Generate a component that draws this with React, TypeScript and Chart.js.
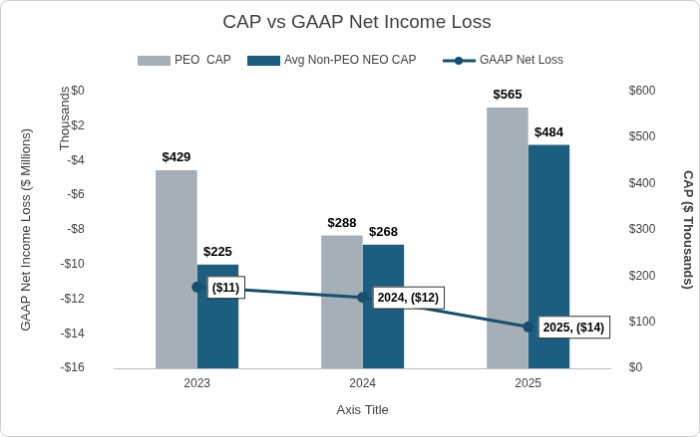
import React, { useEffect, useRef } from "react";
import { Chart, registerables } from "chart.js";
Chart.register(...registerables);

const categories = ["2023", "2024", "2025"];
const peoCap = [429, 288, 565];
const neoCap = [225, 268, 484];
const netLoss = [-11.3, -11.9, -13.6];
const netLossLabels = ["($11)", "2024, ($12)", "2025, ($14)"];

const GRAY = "#A5AFB8";
const BLUE = "#1B5E80";
const LINE = "#15506D";
const FONT = "Liberation Sans, Arial, sans-serif";

export default function App() {
  const ref = useRef<HTMLCanvasElement>(null);
  useEffect(() => {
    const labelsPlugin = {
      id: "extras",
      afterDraw(chart: any) {
        const ctx = chart.ctx;
        ctx.save();
        ctx.font = `bold 13px ${FONT}`;
        ctx.fillStyle = "#000";
        ctx.textAlign = "center";
        ctx.textBaseline = "bottom";
        [0, 1].forEach((di) => {
          const meta = chart.getDatasetMeta(di);
          const vals = di === 0 ? peoCap : neoCap;
          meta.data.forEach((b: any, i: number) => {
            ctx.fillText("$" + vals[i], b.x, b.y - 6);
          });
        });
        const lm = chart.getDatasetMeta(2);
        ctx.font = `bold 12px ${FONT}`;
        ctx.textAlign = "left";
        ctx.textBaseline = "middle";
        lm.data.forEach((p: any, i: number) => {
          const t = netLossLabels[i];
          const w = ctx.measureText(t).width + 10;
          const x = p.x + 10, y = p.y;
          ctx.fillStyle = "#fff";
          ctx.fillRect(x, y - 11, w, 22);
          ctx.strokeStyle = "#333";
          ctx.lineWidth = 1;
          ctx.strokeRect(x + 0.5, y - 10.5, w, 22);
          ctx.fillStyle = "#000";
          ctx.fillText(t, x + 5, y + 1);
        });
        ctx.font = `13px ${FONT}`;
        ctx.fillStyle = "#404040";
        ctx.translate(64, 118);
        ctx.rotate(-Math.PI / 2);
        ctx.textAlign = "center";
        ctx.fillText("Thousands", 0, 0);
        ctx.restore();
        ctx.save();
        ctx.font = `12px ${FONT}`;
        ctx.textBaseline = "middle";
        const ly = 60;
        ctx.fillStyle = GRAY;
        ctx.fillRect(137, ly - 5, 33, 10);
        ctx.fillStyle = "#404040";
        ctx.fillText("PEO  CAP", 174, ly);
        ctx.fillStyle = BLUE;
        ctx.fillRect(247, ly - 5, 33, 10);
        ctx.fillStyle = "#404040";
        ctx.fillText("Avg Non-PEO NEO CAP", 284, ly);
        ctx.strokeStyle = LINE;
        ctx.lineWidth = 3;
        ctx.beginPath();
        ctx.moveTo(443, ly);
        ctx.lineTo(476, ly);
        ctx.stroke();
        ctx.fillStyle = LINE;
        ctx.beginPath();
        ctx.arc(459, ly, 4, 0, Math.PI * 2);
        ctx.fill();
        ctx.fillStyle = "#404040";
        ctx.fillText("GAAP Net Loss", 480, ly);
        ctx.restore();
      },
    };
    const chart = new Chart(ref.current!, {
      type: "bar",
      data: {
        labels: categories,
        datasets: [
          { label: "PEO  CAP", data: peoCap, backgroundColor: GRAY, yAxisID: "y1", categoryPercentage: 0.5, barPercentage: 1, order: 2 },
          { label: "Avg Non-PEO NEO CAP", data: neoCap, backgroundColor: BLUE, yAxisID: "y1", categoryPercentage: 0.5, barPercentage: 1, order: 2 },
          { type: "line", label: "GAAP Net Loss", data: netLoss, borderColor: LINE, backgroundColor: LINE, borderWidth: 3, pointRadius: 4, yAxisID: "y", order: 1 } as any,
        ],
      },
      options: {
        animation: false,
        responsive: false,
        layout: { padding: { top: 0, left: 14, right: 0, bottom: 14 } },
        plugins: {
          legend: { display: false },
          tooltip: { enabled: false },
          title: { display: true, text: "CAP vs GAAP Net Income Loss", color: "#404040", font: { family: FONT, size: 19, weight: "normal" }, padding: { top: 10, bottom: 58 } },
        },
        scales: {
          x: {
            grid: { display: false, drawTicks: false },
            border: { color: "#BFBFBF" },
            ticks: { color: "#404040", font: { family: FONT, size: 12 }, padding: 8 },
            title: { display: true, text: "Axis Title", color: "#404040", font: { family: FONT, size: 13 } },
          },
          y: {
            position: "left",
            min: -16, max: 0,
            ticks: { stepSize: 2, color: "#404040", font: { family: FONT, size: 12 }, padding: 22, callback: (v: any) => (v < 0 ? "-$" + -v : "$" + v) },
            grid: { display: false },
            border: { display: false },
            title: { display: true, text: "GAAP Net Income Loss ($ Millions)", color: "#404040", font: { family: FONT, size: 13 } },
          },
          y1: {
            position: "right",
            min: 0, max: 600,
            ticks: { stepSize: 100, color: "#404040", font: { family: FONT, size: 12 }, padding: 10, callback: (v: any) => "$" + v },
            grid: { display: false },
            border: { display: false },
            title: { display: true, text: "CAP ($ Thousands)", color: "#404040", font: { family: FONT, size: 13, weight: "bold" }, padding: { top: 4, bottom: 14 } },
          },
        },
      },
      plugins: [labelsPlugin],
    });
    return () => chart.destroy();
  }, []);
  return (
    <div style={{ position: "fixed", left: 0, top: 0, width: 700, height: 437, background: "#fff" }}>
      <canvas ref={ref} width={700} height={437} style={{ border: "1px solid #D0D0D0", borderRadius: 8, boxSizing: "border-box" }} />
    </div>
  );
}
